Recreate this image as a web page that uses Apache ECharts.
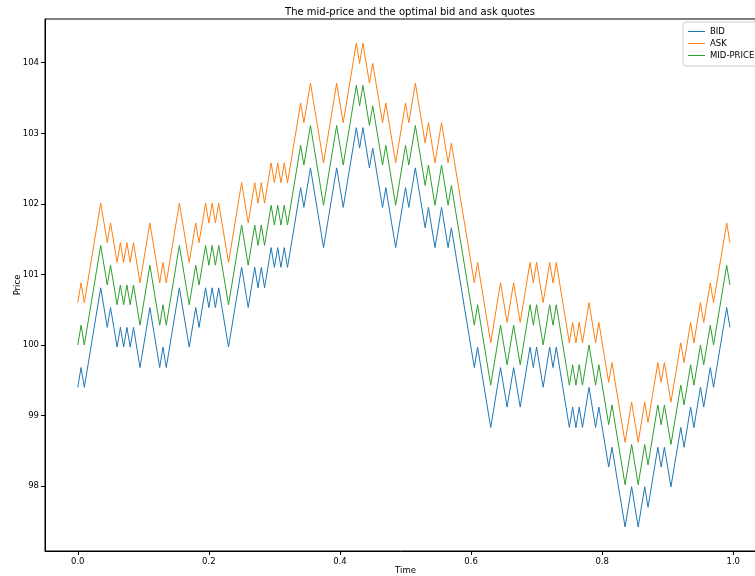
<!DOCTYPE html>
<html>
	<head>
		<meta charset="utf-8">
		<title>mid-price and quotes</title>
		<style>
			body{margin:0;background:#fff;}
			#main{width:755px;height:576px;}
		</style>
	</head>
	<body>
		<div id="main"></div>
		<script src="https://cdn.jsdelivr.net/npm/echarts@6/dist/echarts.min.js"></script>
		<script>
			// turning points of the random walk
			var times=[0,0.005,0.01,0.035,0.045,0.05,0.06,0.065,0.07,0.075,
				0.08,0.085,0.095,0.11,0.125,0.13,0.135,0.155,0.17,0.18,
				0.185,0.195,0.2,0.205,0.21,0.215,0.23,0.25,0.26,0.27,
				0.275,0.28,0.285,0.295,0.3,0.305,0.31,0.315,0.32,0.34,
				0.345,0.355,0.375,0.395,0.405,0.425,0.43,0.435,0.445,0.45,
				0.465,0.47,0.485,0.5,0.505,0.515,0.53,0.535,0.545,0.555,
				0.565,0.57,0.605,0.61,0.63,0.645,0.655,0.665,0.675,0.69,
				0.695,0.7,0.71,0.72,0.725,0.73,0.75,0.755,0.76,0.765,
				0.77,0.78,0.79,0.795,0.81,0.815,0.835,0.845,0.855,0.865,
				0.87,0.885,0.89,0.895,0.905,0.92,0.925,0.935,0.94,0.95,
				0.955,0.965,0.97,0.99,0.995]

			var mid=[100.00,100.28,100.00,101.41,100.85,101.13,100.57,100.85,100.57,100.85,
				100.57,100.85,100.28,101.13,100.28,100.57,100.28,101.41,100.57,101.13,
				100.85,101.41,101.13,101.41,101.13,101.41,100.57,101.70,101.13,101.70,
				101.41,101.70,101.41,101.98,101.70,101.98,101.70,101.98,101.70,102.83,
				102.55,103.11,101.98,103.11,102.55,103.68,103.39,103.68,103.11,103.39,
				102.55,102.83,101.98,102.83,102.55,103.11,102.26,102.55,101.98,102.55,
				101.98,102.26,100.28,100.57,99.43,100.28,99.72,100.28,99.72,100.57,
				100.28,100.57,100.00,100.57,100.28,100.57,99.43,99.72,99.43,99.72,
				99.43,100.00,99.43,99.72,98.87,99.15,98.02,98.59,98.02,98.59,
				98.30,99.15,98.87,99.15,98.59,99.43,99.15,99.72,99.43,100.00,
				99.72,100.28,100.00,101.13,100.85]

			var ask=[100.60,100.88,100.60,102.01,101.45,101.73,101.17,101.45,101.17,101.45,
				101.17,101.45,100.88,101.73,100.88,101.17,100.88,102.01,101.17,101.73,
				101.45,102.01,101.73,102.01,101.73,102.01,101.17,102.30,101.73,102.30,
				102.01,102.30,102.01,102.58,102.30,102.58,102.30,102.58,102.30,103.43,
				103.15,103.71,102.58,103.71,103.15,104.28,103.99,104.28,103.71,103.99,
				103.15,103.43,102.58,103.43,103.15,103.71,102.86,103.15,102.58,103.15,
				102.58,102.86,100.88,101.17,100.03,100.88,100.32,100.88,100.32,101.17,
				100.88,101.17,100.60,101.17,100.88,101.17,100.03,100.32,100.03,100.32,
				100.03,100.60,100.03,100.32,99.47,99.75,98.62,99.19,98.62,99.19,
				98.90,99.75,99.47,99.75,99.19,100.03,99.75,100.32,100.03,100.60,
				100.32,100.88,100.60,101.73,101.45]

			var bid=[99.40,99.68,99.40,100.81,100.25,100.53,99.97,100.25,99.97,100.25,
				99.97,100.25,99.68,100.53,99.68,99.97,99.68,100.81,99.97,100.53,
				100.25,100.81,100.53,100.81,100.53,100.81,99.97,101.10,100.53,101.10,
				100.81,101.10,100.81,101.38,101.10,101.38,101.10,101.38,101.10,102.23,
				101.95,102.51,101.38,102.51,101.95,103.08,102.79,103.08,102.51,102.79,
				101.95,102.23,101.38,102.23,101.95,102.51,101.66,101.95,101.38,101.95,
				101.38,101.66,99.68,99.97,98.83,99.68,99.12,99.68,99.12,99.97,
				99.68,99.97,99.40,99.97,99.68,99.97,98.83,99.12,98.83,99.12,
				98.83,99.40,98.83,99.12,98.27,98.55,97.42,97.99,97.42,97.99,
				97.70,98.55,98.27,98.55,97.99,98.83,98.55,99.12,98.83,99.40,
				99.12,99.68,99.40,100.53,100.25]

			var xTicks=[0,0.2,0.4,0.6,0.8,1.0]
			var yTicks=[98,99,100,101,102,103,104]

			function pairs(ys){
				return times.map((t,i)=>[t,ys[i]])
			}

			var font='DejaVu Sans'
			var mychart=echarts.init(document.getElementById("main"))
			var option={
				animation:false,
				title:{
					text:"The mid-price and the optimal bid and ask quotes",
					left:405,top:2,textAlign:'center',
					textStyle:{fontFamily:font,fontSize:10,fontWeight:'normal',color:'#000'}
				},
				legend:{
					orient:'vertical',left:683,top:22,
					data:['BID','ASK','MID-PRICE'],
					icon:'rect',itemWidth:17,itemHeight:1,itemGap:3,
					padding:[5,40,6,5],
					borderColor:'#ccc',borderWidth:1,borderRadius:3,
					textStyle:{fontFamily:font,fontSize:8.5,color:'#000'}
				},
				grid:{left:45,right:-11,top:19,bottom:25,show:true,borderColor:'#000',borderWidth:1,
					containLabel:false,outerBoundsMode:'none'},
				xAxis:{
					type:'value',min:-0.05,max:1.05,
					name:'Time',nameLocation:'middle',nameGap:15,nameMoveOverlap:false,
					nameTextStyle:{fontFamily:font,fontSize:8.5,color:'#000'},
					axisLine:{onZero:false,lineStyle:{color:'#000',width:1}},
					axisTick:{customValues:xTicks,length:4,lineStyle:{color:'#000'}},
					axisLabel:{customValues:xTicks,margin:6,fontFamily:font,fontSize:8.5,color:'#000',
						formatter:v=>v.toFixed(1)},
					splitLine:{show:false}
				},
				yAxis:{
					type:'value',min:97.08,max:104.62,
					name:'Price',nameLocation:'middle',nameGap:23,nameMoveOverlap:false,
					nameTextStyle:{fontFamily:font,fontSize:8.5,color:'#000'},
					axisLine:{show:true,onZero:false,lineStyle:{color:'#000',width:1}},
					axisTick:{show:true,customValues:yTicks,length:4,lineStyle:{color:'#000'}},
					axisLabel:{customValues:yTicks,margin:6,fontFamily:font,fontSize:8.5,color:'#000'},
					splitLine:{show:false}
				},
				series:[
					{name:'BID',type:'line',data:pairs(bid),symbol:'none',lineStyle:{width:1,color:'#1f77b4'},itemStyle:{color:'#1f77b4'}},
					{name:'ASK',type:'line',data:pairs(ask),symbol:'none',lineStyle:{width:1,color:'#ff7f0e'},itemStyle:{color:'#ff7f0e'}},
					{name:'MID-PRICE',type:'line',data:pairs(mid),symbol:'none',lineStyle:{width:1,color:'#2ca02c'},itemStyle:{color:'#2ca02c'}}
				]
			};
			mychart.setOption(option);
		</script>
	</body>
</html>
